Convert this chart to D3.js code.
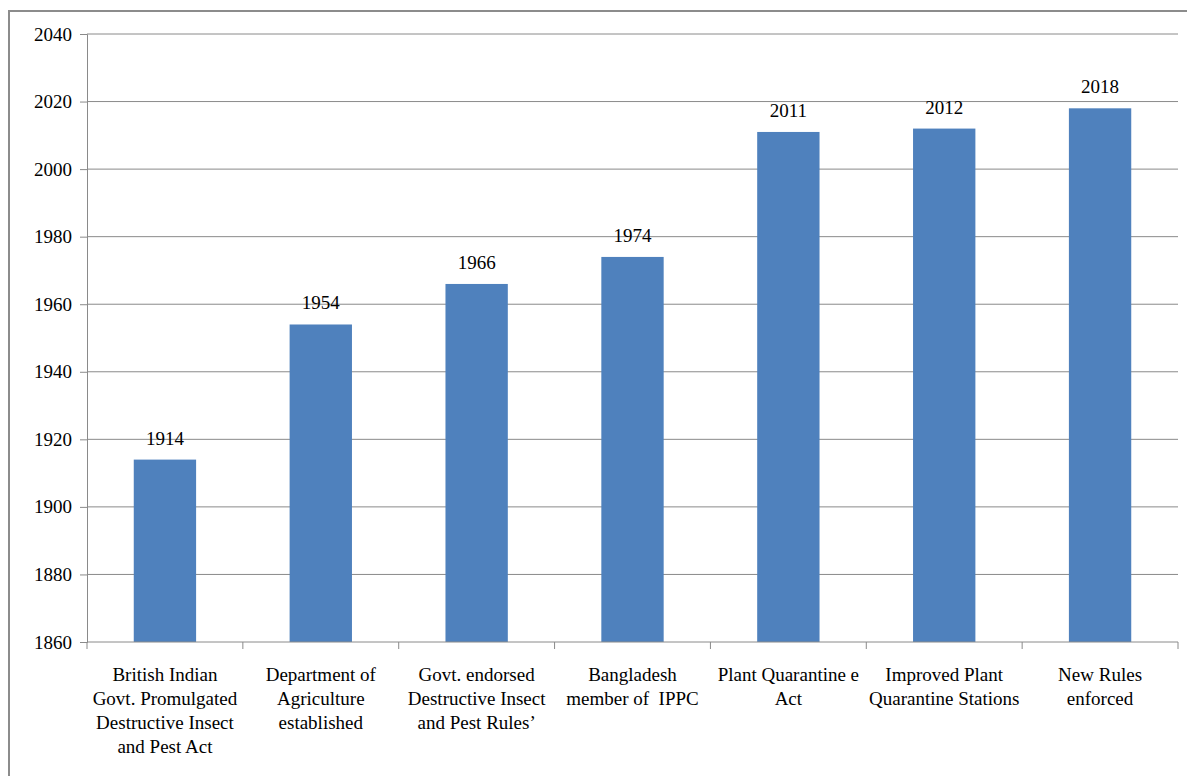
<!DOCTYPE html>
<html>
<head>
<meta charset="utf-8">
<script src="https://cdn.jsdelivr.net/npm/d3@7"></script>
<style>
  body { margin: 0; background: #fff; }
</style>
</head>
<body>
<svg id="chart" width="1187" height="776"></svg>
<script>
// milestones and the year each happened
let categories = [
    ["British Indian", "Govt. Promulgated", "Destructive Insect", "and Pest Act"],
    ["Department of", "Agriculture", "established"],
    ["Govt. endorsed", "Destructive Insect", "and Pest Rules\u2019"],
    ["Bangladesh", "member of \u00a0IPPC"],
    ["Plant Quarantine e", "Act"],
    ["Improved Plant", "Quarantine Stations"],
    ["New Rules", "enforced"]
];
let years = [1914, 1954, 1966, 1974, 2011, 2012, 2018];
let yTicks = [1860, 1880, 1900, 1920, 1940, 1960, 1980, 2000, 2020, 2040];

let font = "Liberation Serif";

let svg = d3.select("#chart");
let margin = {left: 87, top: 34, right: 1178, bottom: 642};

// outer frame (only top and left visible in the crop)
svg.append("path")
    .attr("d", "M9,776 V11 H1187")
    .attr("fill", "none")
    .attr("stroke", "#8c8c8c")
    .attr("stroke-width", 2);

let x = d3.scaleBand().domain(d3.range(years.length))
    .range([margin.left, margin.right]).paddingInner(0.6).paddingOuter(0.3);
let y = d3.scaleLinear().domain([1860, 2040]).range([margin.bottom, margin.top]);
let step = x.step();

// gridlines
svg.append("g").selectAll("line").data(yTicks.slice(1)).join("line")
    .attr("x1", margin.left).attr("x2", margin.right)
    .attr("y1", d => y(d)).attr("y2", d => y(d))
    .attr("stroke", "#8a8a8a").attr("stroke-width", 1);

// bars
svg.append("g").selectAll("rect").data(years).join("rect")
    .attr("x", (d, i) => x(i))
    .attr("width", x.bandwidth())
    .attr("y", d => y(d))
    .attr("height", d => y(1860) - y(d))
    .attr("fill", "#4f81bd");

// value labels
svg.append("g").selectAll("text").data(years).join("text")
    .attr("x", (d, i) => x(i) + x.bandwidth() / 2)
    .attr("y", d => y(d) - 15)
    .attr("text-anchor", "middle")
    .style("font-family", font)
    .attr("font-size", 19)
    .attr("fill", "#000")
    .text(d => d);

// y axis
let yAxis = svg.append("g").attr("transform", `translate(${margin.left},0)`)
    .call(d3.axisLeft(y).tickValues(yTicks).tickFormat(d3.format("d")).tickSize(7).tickPadding(8));
yAxis.select(".domain").attr("stroke", "#8a8a8a");
yAxis.selectAll(".tick line").attr("stroke", "#8a8a8a");
yAxis.selectAll(".tick text").attr("font-size", 19).style("font-family", font).attr("fill", "#000");

// x axis baseline and category separators
let xg = svg.append("g");
xg.append("line")
    .attr("x1", margin.left).attr("x2", margin.right)
    .attr("y1", margin.bottom).attr("y2", margin.bottom)
    .attr("stroke", "#8a8a8a");
xg.selectAll("line.sep").data(d3.range(years.length + 1)).join("line")
    .attr("class", "sep")
    .attr("x1", i => margin.left + i * step).attr("x2", i => margin.left + i * step)
    .attr("y1", margin.bottom).attr("y2", margin.bottom + 7)
    .attr("stroke", "#8a8a8a");

// category labels
let labels = xg.selectAll("text.cat").data(categories).join("text")
    .attr("class", "cat")
    .attr("text-anchor", "middle")
    .style("font-family", font)
    .attr("font-size", 19)
    .attr("fill", "#000")
    .attr("transform", (d, i) => `translate(${x(i) + x.bandwidth() / 2},${margin.bottom + 39})`);
labels.selectAll("tspan").data(d => d).join("tspan")
    .attr("x", 0)
    .attr("y", (d, i) => i * 24)
    .text(d => d);
</script>
</body>
</html>
